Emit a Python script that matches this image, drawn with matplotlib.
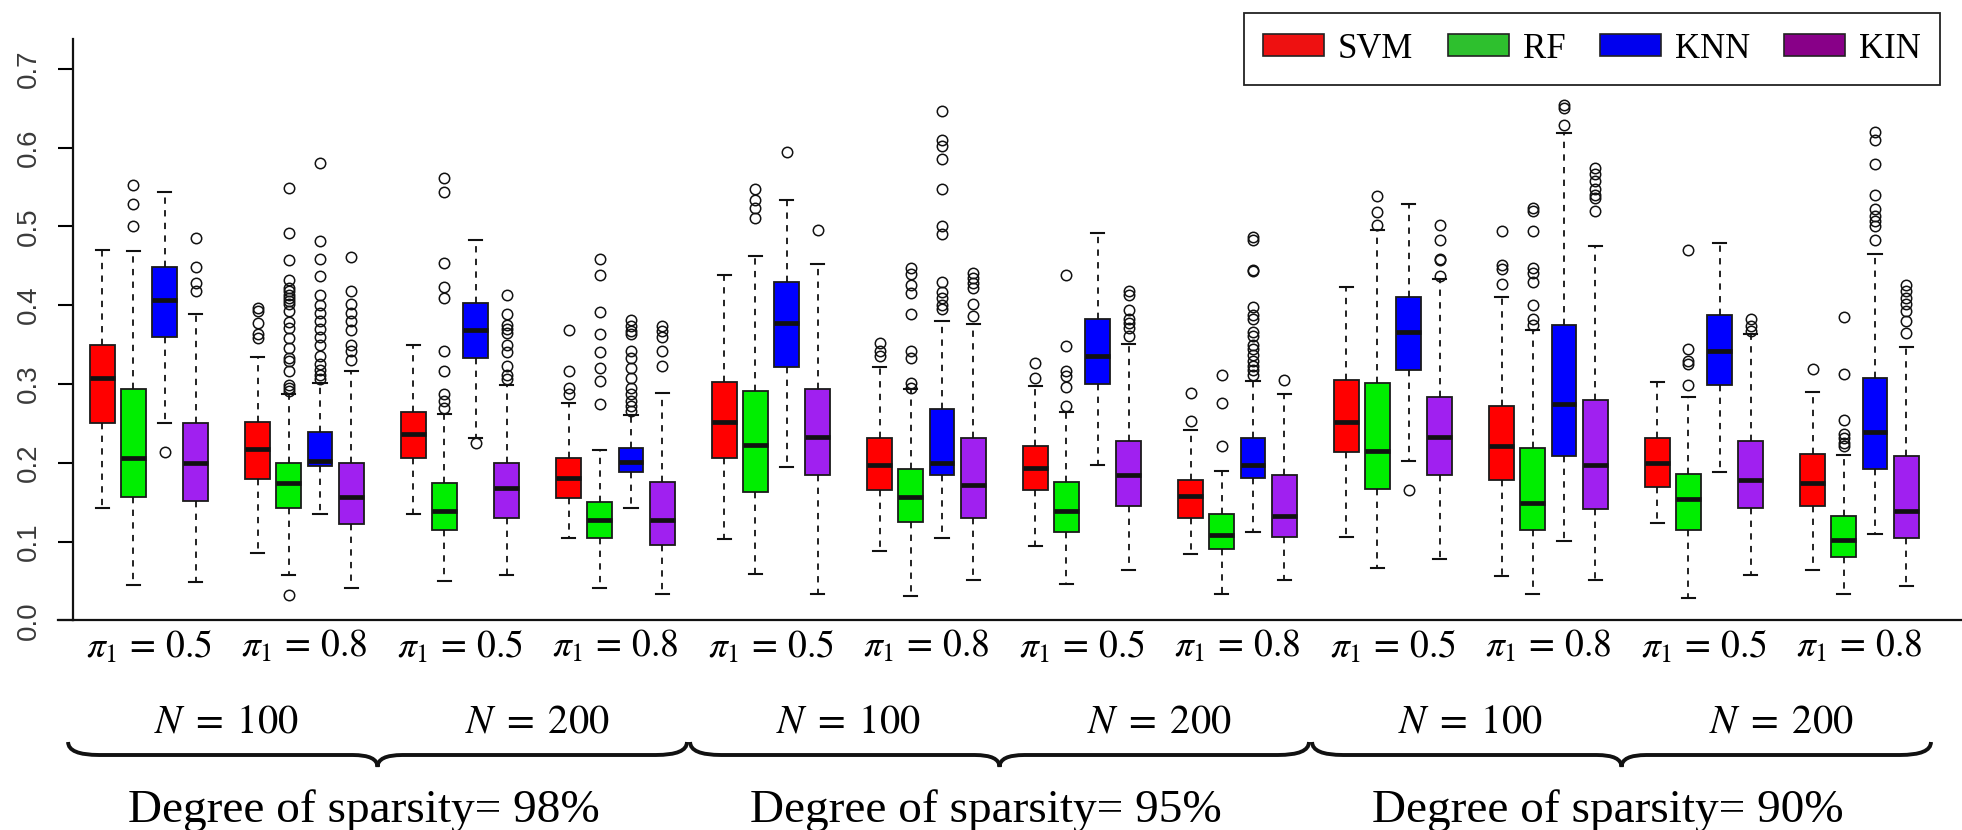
import numpy as np
import matplotlib
matplotlib.use("Agg")
import matplotlib.pyplot as plt
from matplotlib.patches import Patch, PathPatch
from matplotlib.path import Path
from matplotlib import transforms

plt.rcParams['mathtext.fontset'] = 'stix'

# ---------------------------------------------------------
# Data
# each tuple: (lower whisker, Q1, median, Q3, upper whisker)
# ---------------------------------------------------------
methods = ['SVM', 'RF', 'KNN', 'KIN']
pi_labels = ['0.5', '0.8', '0.5', '0.8'] * 3
n_labels = ['100', '200'] * 3
sparsity_labels = ['98%', '95%', '90%']

svm_stats = [(0.143, 0.251, 0.307, 0.350, 0.470), (0.086, 0.179, 0.217, 0.252, 0.334),
             (0.135, 0.206, 0.237, 0.264, 0.350), (0.104, 0.155, 0.181, 0.206, 0.276),
             (0.103, 0.206, 0.252, 0.303, 0.438), (0.088, 0.165, 0.197, 0.231, 0.321),
             (0.094, 0.165, 0.193, 0.221, 0.297), (0.084, 0.130, 0.158, 0.178, 0.241),
             (0.106, 0.214, 0.252, 0.305, 0.423), (0.056, 0.178, 0.221, 0.272, 0.410),
             (0.123, 0.169, 0.200, 0.231, 0.303), (0.064, 0.145, 0.174, 0.211, 0.290)]
rf_stats = [(0.045, 0.157, 0.206, 0.294, 0.469), (0.057, 0.143, 0.174, 0.200, 0.287),
            (0.050, 0.114, 0.139, 0.174, 0.262), (0.041, 0.104, 0.127, 0.150, 0.216),
            (0.059, 0.163, 0.223, 0.291, 0.462), (0.031, 0.125, 0.156, 0.192, 0.293),
            (0.046, 0.112, 0.139, 0.176, 0.264), (0.034, 0.090, 0.108, 0.135, 0.190),
            (0.066, 0.167, 0.215, 0.301, 0.496), (0.034, 0.114, 0.149, 0.219, 0.369),
            (0.028, 0.114, 0.154, 0.186, 0.284), (0.034, 0.080, 0.102, 0.133, 0.210)]
knn_stats = [(0.250, 0.359, 0.406, 0.449, 0.544), (0.135, 0.196, 0.202, 0.239, 0.301),
             (0.232, 0.333, 0.369, 0.403, 0.483), (0.143, 0.188, 0.201, 0.219, 0.261),
             (0.195, 0.321, 0.378, 0.430, 0.534), (0.104, 0.184, 0.200, 0.268, 0.380),
             (0.197, 0.300, 0.335, 0.383, 0.491), (0.112, 0.180, 0.197, 0.231, 0.304),
             (0.202, 0.318, 0.366, 0.410, 0.528), (0.101, 0.209, 0.274, 0.375, 0.618),
             (0.188, 0.299, 0.342, 0.387, 0.479), (0.110, 0.192, 0.239, 0.307, 0.465)]
kin_stats = [(0.049, 0.151, 0.200, 0.251, 0.389), (0.041, 0.122, 0.157, 0.200, 0.317),
             (0.057, 0.130, 0.168, 0.200, 0.299), (0.034, 0.095, 0.127, 0.176, 0.288),
             (0.034, 0.184, 0.233, 0.294, 0.452), (0.051, 0.130, 0.172, 0.231, 0.376),
             (0.064, 0.145, 0.185, 0.227, 0.351), (0.051, 0.106, 0.133, 0.185, 0.287),
             (0.078, 0.184, 0.233, 0.283, 0.433), (0.051, 0.141, 0.197, 0.280, 0.475),
             (0.057, 0.143, 0.178, 0.227, 0.364), (0.043, 0.104, 0.139, 0.209, 0.347)]

svm_out = [[], [0.397, 0.392, 0.378, 0.363, 0.358], [], [0.368, 0.317, 0.295, 0.287],
           [], [0.352, 0.342, 0.335], [0.326, 0.307], [0.289, 0.253],
           [], [0.494, 0.451, 0.446, 0.427], [], [0.319]]
rf_out = [[0.553, 0.528, 0.501],
          [0.549, 0.492, 0.457, 0.432, 0.422, 0.418, 0.413, 0.409, 0.405, 0.401, 0.392,
           0.379, 0.371, 0.358, 0.346, 0.333, 0.329, 0.316, 0.299, 0.295, 0.291, 0.032],
          [0.561, 0.544, 0.454, 0.423, 0.409, 0.342, 0.317, 0.287, 0.278, 0.270],
          [0.459, 0.438, 0.391, 0.363, 0.340, 0.320, 0.304, 0.274],
          [0.547, 0.534, 0.523, 0.511],
          [0.447, 0.439, 0.426, 0.416, 0.389, 0.342, 0.333, 0.301, 0.295],
          [0.438, 0.348, 0.316, 0.310, 0.296, 0.272],
          [0.311, 0.276, 0.221],
          [0.539, 0.518, 0.502],
          [0.523, 0.519, 0.494, 0.447, 0.441, 0.430, 0.400, 0.382, 0.375],
          [0.470, 0.344, 0.329, 0.325, 0.299],
          [0.385, 0.313, 0.254, 0.236, 0.231, 0.225, 0.221]]
knn_out = [[0.213],
           [0.581, 0.481, 0.459, 0.437, 0.413, 0.400, 0.390, 0.380, 0.370, 0.360, 0.350,
            0.335, 0.325, 0.318, 0.312, 0.306],
           [0.225],
           [0.381, 0.373, 0.367, 0.363, 0.342, 0.333, 0.320, 0.308, 0.295, 0.287, 0.278,
            0.272, 0.266],
           [0.594],
           [0.646, 0.610, 0.602, 0.585, 0.547, 0.500, 0.490, 0.430, 0.417, 0.409, 0.400, 0.395],
           [],
           [0.487, 0.483, 0.445, 0.443, 0.398, 0.388, 0.382, 0.366, 0.361, 0.350, 0.344,
            0.337, 0.329, 0.323, 0.318, 0.312],
           [0.165],
           [0.654, 0.650, 0.629],
           [],
           [0.620, 0.610, 0.579, 0.540, 0.522, 0.513, 0.507, 0.500, 0.483]]
kin_out = [[0.485, 0.448, 0.428, 0.418],
           [0.461, 0.418, 0.402, 0.390, 0.380, 0.369, 0.350, 0.342, 0.330],
           [0.413, 0.389, 0.375, 0.370, 0.365, 0.350, 0.340, 0.323, 0.312, 0.306],
           [0.373, 0.367, 0.360, 0.342, 0.323],
           [0.496],
           [0.441, 0.435, 0.428, 0.422, 0.401, 0.386],
           [0.418, 0.413, 0.394, 0.382, 0.378, 0.371, 0.361],
           [0.305],
           [0.502, 0.483, 0.459, 0.457, 0.437],
           [0.574, 0.567, 0.557, 0.547, 0.540, 0.536, 0.520],
           [0.382, 0.373, 0.367],
           [0.425, 0.418, 0.409, 0.401, 0.392, 0.380, 0.365]]

box_colors = ['#ff0000', '#00ee00', '#0000ff', '#a020f0']
legend_colors = ['#ee1111', '#2ec02e', '#0000ee', '#880088']

# ---------------------------------------------------------
# Figure
# ---------------------------------------------------------
W, H = 1962, 830
fig = plt.figure(figsize=(W / 100, H / 100), dpi=100)
ax = fig.add_axes([73.3 / W, 1 - 620.3 / H, 1 - 73.3 / W, (620.3 - 39.3) / H])

all_stats = [svm_stats, rf_stats, knn_stats, kin_stats]
all_out = [svm_out, rf_out, knn_out, kin_out]
n_groups = len(svm_stats)

for m in range(len(methods)):
    stats = []
    for g in range(n_groups):
        lo, q1, med, q3, hi = all_stats[m][g]
        stats.append({'whislo': lo, 'q1': q1, 'med': med, 'q3': q3, 'whishi': hi,
                      'fliers': all_out[m][g]})
    positions = [5 * g + m + 1 for g in range(n_groups)]
    ax.bxp(stats, positions=positions, widths=0.8, capwidths=0.42, patch_artist=True,
           showfliers=True, manage_ticks=False,
           boxprops=dict(facecolor=box_colors[m], edgecolor='#1a1a1a', linewidth=1.3),
           medianprops=dict(color='#111111', linewidth=3.4, solid_capstyle='butt'),
           whiskerprops=dict(color='#111111', linewidth=1.3, linestyle=(0, (3.5, 3.5))),
           capprops=dict(color='#111111', linewidth=1.5),
           flierprops=dict(marker='o', markerfacecolor='none', markeredgecolor='#111111',
                           markersize=7.5, markeredgewidth=1.1))

ax.set_xlim((73.3 - 71.2) / 31.1, (W - 71.2) / 31.1)
ax.set_ylim(0, 0.7375)
ax.set_yticks(np.arange(0, 0.71, 0.1))
ax.set_yticklabels([f"{v:.1f}" for v in np.arange(0, 0.71, 0.1)])
ax.set_xticks([])
for s in ['top', 'right']:
    ax.spines[s].set_visible(False)
for s in ['left', 'bottom']:
    ax.spines[s].set_linewidth(1.6)
    ax.spines[s].set_color('#111111')
ax.tick_params(axis='y', direction='out', length=10.8, width=1.5, pad=12,
               labelsize=20, labelcolor='#3a3a3a', labelrotation=90)
for lab in ax.get_yticklabels():
    lab.set_fontfamily('Liberation Sans')
    lab.set_va('center')
ax.plot([-15 / 1888.7, 0], [0, 0], transform=ax.transAxes, color='#111111',
        lw=1.6, clip_on=False)

# ---------------------------------------------------------
# Bottom annotations
# ---------------------------------------------------------
def fy(px):
    return 1 - px / H

trans = transforms.blended_transform_factory(ax.transData, fig.transFigure)

for g in range(n_groups):
    ax.text(5 * g + 2.5, fy(647), r'$\pi_1\,=\,%s$' % pi_labels[g], transform=trans,
            ha='center', va='center', fontsize=27, clip_on=False)

for j, n in enumerate(n_labels):
    ax.text(10 * j + 5, fy(721), r'$N\;=\;%s$' % n, transform=trans,
            ha='center', va='center', fontsize=29, clip_on=False)


def draw_brace(x0, x1, ytop, ybar, ytip, r_end=1.0, r_mid=0.8):
    xm = (x0 + x1) / 2
    verts = [(x0, ytop), (x0, ybar), (x0 + r_end, ybar),
             (xm - r_mid, ybar),
             (xm, ybar), (xm, ytip),
             (xm, ybar), (xm + r_mid, ybar),
             (x1 - r_end, ybar),
             (x1, ybar), (x1, ytop)]
    codes = [Path.MOVETO, Path.CURVE3, Path.CURVE3, Path.LINETO,
             Path.CURVE3, Path.CURVE3, Path.CURVE3, Path.CURVE3,
             Path.LINETO, Path.CURVE3, Path.CURVE3]
    ax.add_patch(PathPatch(Path(verts, codes), fill=False, lw=2.8, color='#111111',
                           transform=trans, clip_on=False))


for k, sp in enumerate(sparsity_labels):
    c = 20 * k + 10
    draw_brace(c - 10.1, c + 9.8, fy(742), fy(755), fy(767))
    ax.text(c - 0.6, fy(822), 'Degree of sparsity= ' + sp, transform=trans,
            ha='center', va='baseline', fontsize=34, family='Liberation Serif',
            clip_on=False)

# ---------------------------------------------------------
# Legend
# ---------------------------------------------------------
handles = [Patch(facecolor=legend_colors[i], edgecolor='#222222', linewidth=1.2)
           for i in range(len(methods))]
leg = fig.legend(handles, methods, loc='center', bbox_to_anchor=(1592 / W, fy(49)),
                 ncol=4, frameon=True, fancybox=False, framealpha=1,
                 prop={'family': 'Liberation Serif', 'size': 25},
                 handlelength=1.75, handleheight=0.6, handletextpad=0.4,
                 columnspacing=1.0, borderpad=0.55, borderaxespad=0,
                 edgecolor='#222222')
leg.get_frame().set_linewidth(1.3)

fig.savefig('out.png', dpi=100, facecolor='white')
